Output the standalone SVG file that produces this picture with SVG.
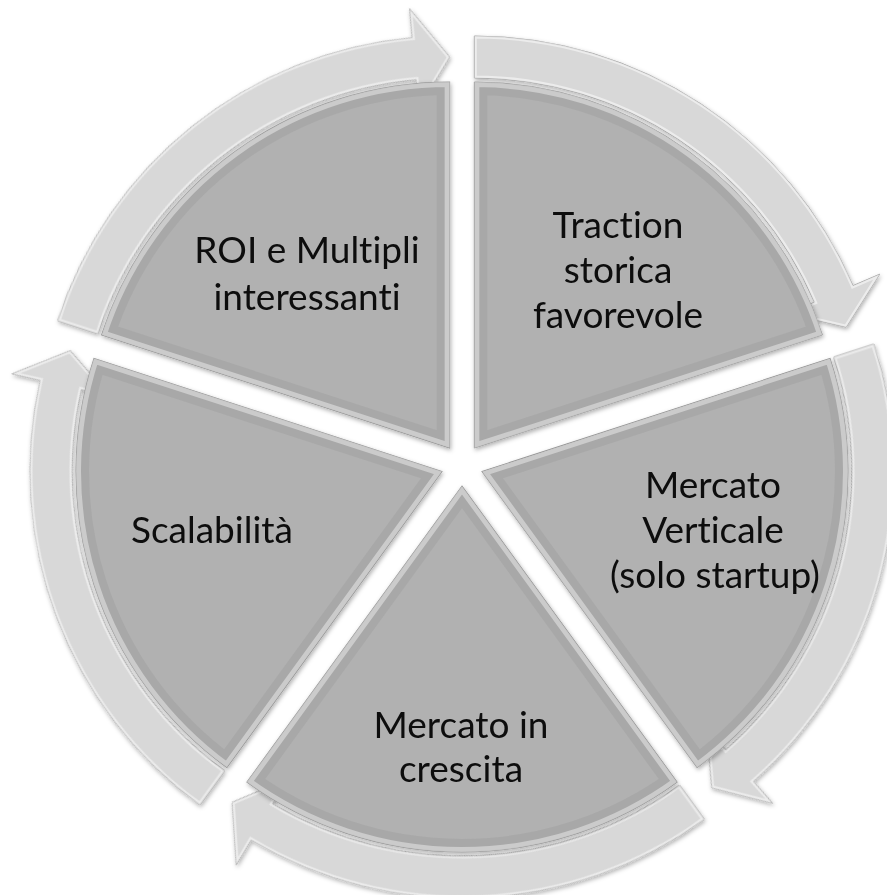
<svg xmlns="http://www.w3.org/2000/svg" xmlns:xlink="http://www.w3.org/1999/xlink" width="887" height="895" viewBox="0 0 887 895">
<style>
.wedge{fill:#b1b1b1;stroke:#999999;stroke-width:1}
.wbev{fill:none;stroke:#ffffff;stroke-opacity:0.4;stroke-width:10;clip-path:url(#cw)}
.wbev2{fill:none;stroke:#6e6e6e;stroke-opacity:0.12;stroke-width:26;clip-path:url(#cw)}
.arrow{fill:#d8d8d8;stroke:#a4a4a4;stroke-width:1}
.abev{fill:none;stroke:#ffffff;stroke-opacity:0.5;stroke-width:5;clip-path:url(#ca)}
.lbl{font-family:Lato,"Open Sans","Liberation Sans",sans-serif;font-size:37px;fill:#0d0d0d;text-anchor:middle;font-variant-ligatures:none;font-feature-settings:"liga" 0}
</style>
<defs>
<path id="w" d="M0,0 L0,-366 A366,366 0 0 1 348.09,-113.10 Z"/>
<path id="a" d="M0,-412 A412,412 0 0 1 378.68,-162.38 L405.34,-173.82 L371.86,-120.83 L313.43,-134.40 L340.08,-145.83 A370,370 0 0 0 0,-370 Z"/>
<clipPath id="cw"><use xlink:href="#w"/></clipPath>
<clipPath id="ca"><use xlink:href="#a"/></clipPath>
<filter id="sh" x="-10%" y="-10%" width="120%" height="120%"><feDropShadow dx="1" dy="2" stdDeviation="2" flood-color="#000" flood-opacity="0.3"/></filter>
</defs>
<rect width="887" height="895" fill="#ffffff"/>
<g id="connectors" filter="url(#sh)">
<g transform="translate(462 465) rotate(0) translate(12.343 -16.989)"><use xlink:href="#a" class="arrow"/><use xlink:href="#a" class="abev"/></g>
<g transform="translate(462 465) rotate(72) translate(12.343 -16.989)"><use xlink:href="#a" class="arrow"/><use xlink:href="#a" class="abev"/></g>
<g transform="translate(462 465) rotate(144) translate(12.343 -16.989)"><use xlink:href="#a" class="arrow"/><use xlink:href="#a" class="abev"/></g>
<g transform="translate(462 465) rotate(216) translate(12.343 -16.989)"><use xlink:href="#a" class="arrow"/><use xlink:href="#a" class="abev"/></g>
<g transform="translate(462 465) rotate(288) translate(12.343 -16.989)"><use xlink:href="#a" class="arrow"/><use xlink:href="#a" class="abev"/></g>
</g>
<g id="traction">
<g filter="url(#sh)"><g transform="translate(462 465) rotate(0) translate(12.343 -16.989)"><use xlink:href="#w" class="wedge"/><use xlink:href="#w" class="wbev2"/><use xlink:href="#w" class="wbev"/></g></g>
<text class="lbl" x="618" y="238">Traction</text>
<text class="lbl" x="618" y="283">storica</text>
<text class="lbl" x="618" y="328">favorevole</text>
</g>
<g id="mercato-verticale">
<g filter="url(#sh)"><g transform="translate(462 465) rotate(72) translate(12.343 -16.989)"><use xlink:href="#w" class="wedge"/><use xlink:href="#w" class="wbev2"/><use xlink:href="#w" class="wbev"/></g></g>
<text class="lbl" x="713" y="498">Mercato</text>
<text class="lbl" x="713" y="543">Verticale</text>
<text class="lbl" x="715" y="588">(solo startup)</text>
</g>
<g id="mercato-crescita">
<g filter="url(#sh)"><g transform="translate(462 465) rotate(144) translate(12.343 -16.989)"><use xlink:href="#w" class="wedge"/><use xlink:href="#w" class="wbev2"/><use xlink:href="#w" class="wbev"/></g></g>
<text class="lbl" x="461" y="738">Mercato in</text>
<text class="lbl" x="461" y="782">crescita</text>
</g>
<g id="scalabilita">
<g filter="url(#sh)"><g transform="translate(462 465) rotate(216) translate(12.343 -16.989)"><use xlink:href="#w" class="wedge"/><use xlink:href="#w" class="wbev2"/><use xlink:href="#w" class="wbev"/></g></g>
<text class="lbl" x="212" y="543">Scalabilità</text>
</g>
<g id="roi">
<g filter="url(#sh)"><g transform="translate(462 465) rotate(288) translate(12.343 -16.989)"><use xlink:href="#w" class="wedge"/><use xlink:href="#w" class="wbev2"/><use xlink:href="#w" class="wbev"/></g></g>
<text class="lbl" x="307" y="263">ROI e Multipli</text>
<text class="lbl" x="307" y="310">interessanti</text>
</g>
</svg>
